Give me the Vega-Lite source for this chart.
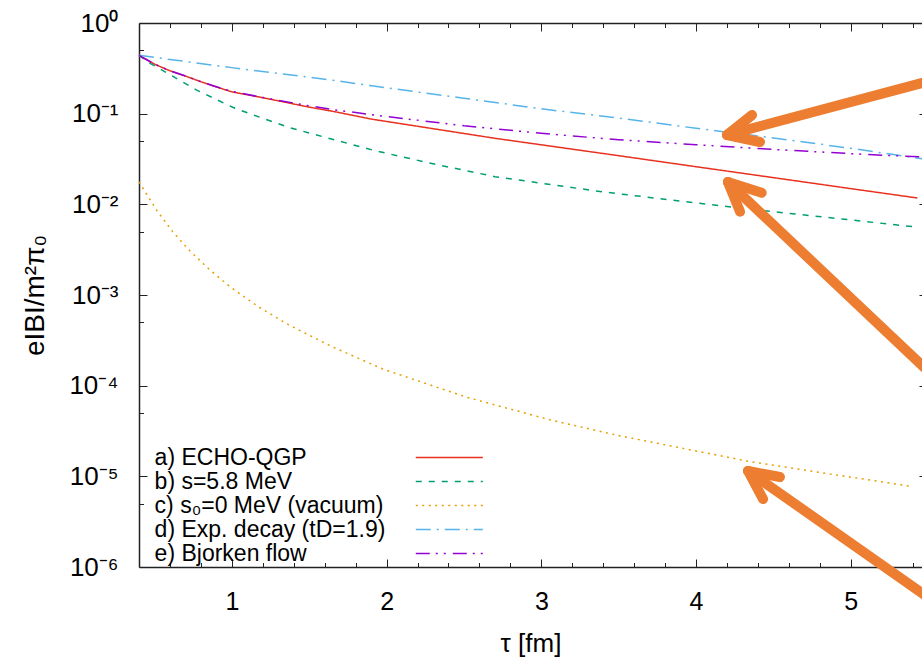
{
  "$schema": "https://vega.github.io/schema/vega-lite/v6.json",
  "width": 783,
  "height": 544,
  "autosize": {"type": "none"},
  "padding": {"left": 139, "top": 23, "right": 0, "bottom": 93},
  "background": "white",
  "config": {
    "font": "Liberation Sans",
    "view": {"stroke": null},
    "axis": {
      "labelFont": "Liberation Sans",
      "titleFont": "Liberation Sans",
      "labelFontSize": 25,
      "titleFontSize": 26,
      "titleFontWeight": "normal",
      "labelColor": "#000",
      "titleColor": "#000",
      "domainColor": "#222",
      "domainWidth": 1.5,
      "tickColor": "#222",
      "tickWidth": 1,
      "grid": false
    },
    "legend": {
      "labelFont": "Liberation Sans",
      "labelFontSize": 23,
      "labelColor": "#000",
      "labelLimit": 400
    }
  },
  "datasets": {
    "curves": [
      {"series": "a) ECHO-QGP", "tau": 0.4, "B": 0.44},
      {"series": "a) ECHO-QGP", "tau": 0.5, "B": 0.352},
      {"series": "a) ECHO-QGP", "tau": 0.6, "B": 0.297},
      {"series": "a) ECHO-QGP", "tau": 0.7, "B": 0.26},
      {"series": "a) ECHO-QGP", "tau": 0.8, "B": 0.225},
      {"series": "a) ECHO-QGP", "tau": 0.9, "B": 0.197},
      {"series": "a) ECHO-QGP", "tau": 1.0, "B": 0.174},
      {"series": "a) ECHO-QGP", "tau": 1.2, "B": 0.15},
      {"series": "a) ECHO-QGP", "tau": 1.5, "B": 0.118},
      {"series": "a) ECHO-QGP", "tau": 1.667, "B": 0.105},
      {"series": "a) ECHO-QGP", "tau": 1.9, "B": 0.0872},
      {"series": "a) ECHO-QGP", "tau": 2.3, "B": 0.0683},
      {"series": "a) ECHO-QGP", "tau": 2.7, "B": 0.0535},
      {"series": "a) ECHO-QGP", "tau": 3.1, "B": 0.0429},
      {"series": "a) ECHO-QGP", "tau": 3.5, "B": 0.0344},
      {"series": "a) ECHO-QGP", "tau": 4.0, "B": 0.026},
      {"series": "a) ECHO-QGP", "tau": 4.5, "B": 0.0197},
      {"series": "a) ECHO-QGP", "tau": 5.0, "B": 0.0149},
      {"series": "a) ECHO-QGP", "tau": 5.43, "B": 0.01175},

      {"series": "b) s=5.8 MeV", "tau": 0.4, "B": 0.44},
      {"series": "b) s=5.8 MeV", "tau": 0.472, "B": 0.359},
      {"series": "b) s=5.8 MeV", "tau": 0.622, "B": 0.256},
      {"series": "b) s=5.8 MeV", "tau": 0.773, "B": 0.182},
      {"series": "b) s=5.8 MeV", "tau": 1.02, "B": 0.1146},
      {"series": "b) s=5.8 MeV", "tau": 1.182, "B": 0.0912},
      {"series": "b) s=5.8 MeV", "tau": 1.365, "B": 0.0708},
      {"series": "b) s=5.8 MeV", "tau": 1.602, "B": 0.0549},
      {"series": "b) s=5.8 MeV", "tau": 1.924, "B": 0.0391},
      {"series": "b) s=5.8 MeV", "tau": 2.3, "B": 0.028},
      {"series": "b) s=5.8 MeV", "tau": 2.7, "B": 0.0202},
      {"series": "b) s=5.8 MeV", "tau": 3.0, "B": 0.0171},
      {"series": "b) s=5.8 MeV", "tau": 3.4, "B": 0.0137},
      {"series": "b) s=5.8 MeV", "tau": 4.28, "B": 0.0091},
      {"series": "b) s=5.8 MeV", "tau": 5.4, "B": 0.00568},

      {"series": "c) s₀=0 MeV (vacuum)", "tau": 0.4, "B": 0.01766},
      {"series": "c) s₀=0 MeV (vacuum)", "tau": 0.513, "B": 0.00867},
      {"series": "c) s₀=0 MeV (vacuum)", "tau": 0.617, "B": 0.005},
      {"series": "c) s₀=0 MeV (vacuum)", "tau": 0.733, "B": 0.00301},
      {"series": "c) s₀=0 MeV (vacuum)", "tau": 0.858, "B": 0.00189},
      {"series": "c) s₀=0 MeV (vacuum)", "tau": 0.992, "B": 0.00122},
      {"series": "c) s₀=0 MeV (vacuum)", "tau": 1.17, "B": 0.000745},
      {"series": "c) s₀=0 MeV (vacuum)", "tau": 1.357, "B": 0.00048},
      {"series": "c) s₀=0 MeV (vacuum)", "tau": 1.461, "B": 0.000389},
      {"series": "c) s₀=0 MeV (vacuum)", "tau": 1.656, "B": 0.000265},
      {"series": "c) s₀=0 MeV (vacuum)", "tau": 1.978, "B": 0.000152},
      {"series": "c) s₀=0 MeV (vacuum)", "tau": 2.517, "B": 0.0000746},
      {"series": "c) s₀=0 MeV (vacuum)", "tau": 3.056, "B": 0.000042},
      {"series": "c) s₀=0 MeV (vacuum)", "tau": 3.497, "B": 0.0000282},
      {"series": "c) s₀=0 MeV (vacuum)", "tau": 4.35, "B": 0.0000145},
      {"series": "c) s₀=0 MeV (vacuum)", "tau": 5.4, "B": 0.0000077},

      {"series": "d) Exp. decay (tD=1.9)", "tau": 0.4, "B": 0.44},
      {"series": "d) Exp. decay (tD=1.9)", "tau": 1.0, "B": 0.322},
      {"series": "d) Exp. decay (tD=1.9)", "tau": 1.667, "B": 0.232},
      {"series": "d) Exp. decay (tD=1.9)", "tau": 1.892, "B": 0.204},
      {"series": "d) Exp. decay (tD=1.9)", "tau": 2.5, "B": 0.148},
      {"series": "d) Exp. decay (tD=1.9)", "tau": 3.0, "B": 0.113},
      {"series": "d) Exp. decay (tD=1.9)", "tau": 3.508, "B": 0.0889},
      {"series": "d) Exp. decay (tD=1.9)", "tau": 4.0, "B": 0.069},
      {"series": "d) Exp. decay (tD=1.9)", "tau": 4.5, "B": 0.054},
      {"series": "d) Exp. decay (tD=1.9)", "tau": 5.0, "B": 0.0415},
      {"series": "d) Exp. decay (tD=1.9)", "tau": 5.46, "B": 0.0318},

      {"series": "e) Bjorken flow", "tau": 0.4, "B": 0.44},
      {"series": "e) Bjorken flow", "tau": 0.5, "B": 0.352},
      {"series": "e) Bjorken flow", "tau": 0.6, "B": 0.297},
      {"series": "e) Bjorken flow", "tau": 0.7, "B": 0.26},
      {"series": "e) Bjorken flow", "tau": 0.8, "B": 0.225},
      {"series": "e) Bjorken flow", "tau": 0.9, "B": 0.198},
      {"series": "e) Bjorken flow", "tau": 1.0, "B": 0.176},
      {"series": "e) Bjorken flow", "tau": 1.2, "B": 0.151},
      {"series": "e) Bjorken flow", "tau": 1.5, "B": 0.122},
      {"series": "e) Bjorken flow", "tau": 1.667, "B": 0.11},
      {"series": "e) Bjorken flow", "tau": 2.0, "B": 0.093},
      {"series": "e) Bjorken flow", "tau": 2.5, "B": 0.0735},
      {"series": "e) Bjorken flow", "tau": 3.0, "B": 0.0607},
      {"series": "e) Bjorken flow", "tau": 3.5, "B": 0.0515},
      {"series": "e) Bjorken flow", "tau": 4.0, "B": 0.0455},
      {"series": "e) Bjorken flow", "tau": 4.5, "B": 0.0403},
      {"series": "e) Bjorken flow", "tau": 5.0, "B": 0.0362},
      {"series": "e) Bjorken flow", "tau": 5.46, "B": 0.0333}
    ],
    "arrows": [
      {"part": "1 shaft", "xa": 4.2, "ya": 0.05818, "xb": 5.964, "yb": 0.3695},
      {"part": "1 arm a", "xa": 4.2, "ya": 0.05818, "xb": 4.362, "yb": 0.09667},
      {"part": "1 arm b", "xa": 4.2, "ya": 0.05818, "xb": 4.413, "yb": 0.04869},
      {"part": "2 shaft", "xa": 4.206, "ya": 0.01763, "xb": 5.964, "yb": 0.0000258},
      {"part": "2 arm a", "xa": 4.206, "ya": 0.01763, "xb": 4.424, "yb": 0.01344},
      {"part": "2 arm b", "xa": 4.206, "ya": 0.01763, "xb": 4.284, "yb": 0.008295},
      {"part": "3 shaft", "xa": 4.336, "ya": 0.00001145, "xb": 5.964, "yb": 0.000000128},
      {"part": "3 arm a", "xa": 4.336, "ya": 0.00001145, "xb": 4.542, "yb": 0.00000983},
      {"part": "3 arm b", "xa": 4.336, "ya": 0.00001145, "xb": 4.433, "yb": 0.00000562}
    ]
  },
  "resolve": {"axis": {"x": "independent", "y": "independent"}},
  "layer": [
    {
      "data": {"name": "curves"},
      "mark": {"type": "line", "strokeWidth": 1.5},
      "encoding": {
        "x": {
          "field": "tau",
          "type": "quantitative",
          "scale": {"domain": [0.4, 5.46], "nice": false, "zero": false},
          "axis": {
            "orient": "bottom",
            "title": "τ [fm]",
            "titleY": 76,
            "titleBaseline": "middle",
            "values": [0.6, 0.8, 1, 1.2, 1.4, 1.6, 1.8, 2, 2.2, 2.4, 2.6, 2.8, 3, 3.2, 3.4, 3.6, 3.8, 4, 4.2, 4.4, 4.6, 4.8, 5, 5.2, 5.4],
            "labelExpr": "datum.value % 1 == 0 ? format(datum.value, 'd') : ''",
            "tickSize": {"condition": {"test": "datum.value % 1 == 0", "value": -8}, "value": -4.5},
            "labelPadding": 30,
            "labelFlush": false,
            "labelOverlap": false
          }
        },
        "y": {
          "field": "B",
          "type": "quantitative",
          "scale": {"type": "log", "domain": [0.000001, 1], "nice": false},
          "axis": {
            "orient": "left",
            "title": "eIBI/m²π₀",
            "titleX": -104,
            "titleY": 272,
            "titleAngle": -90,
            "titleBaseline": "middle",
            "titleAlign": "center",
            "titleFontSize": 28,
            "labelFontSize": 26,
            "values": [0.000001, 0.000005, 0.00001, 0.00005, 0.0001, 0.0005, 0.001, 0.005, 0.01, 0.05, 0.1, 0.5, 1],
            "labelExpr": "abs(log(datum.value)/LN10 - round(log(datum.value)/LN10)) < 0.01 ? '10' + (round(log(datum.value)/LN10) < 0 ? '⁻' : '') + ['⁰','¹','²','³','⁴','⁵','⁶'][abs(round(log(datum.value)/LN10))] : ''",
            "tickSize": {"condition": {"test": "abs(log(datum.value)/LN10 - round(log(datum.value)/LN10)) < 0.01", "value": -8}, "value": -4.5},
            "labelPadding": 29,
            "labelFlush": false,
            "labelOverlap": false
          }
        },
        "color": {
          "field": "series",
          "type": "nominal",
          "scale": {
            "domain": ["a) ECHO-QGP", "b) s=5.8 MeV", "c) s₀=0 MeV (vacuum)", "d) Exp. decay (tD=1.9)", "e) Bjorken flow"],
            "range": ["#e8311f", "#009e73", "#e69f00", "#56b4e9", "#9400d3"]
          },
          "legend": {
            "title": null,
            "orient": "none",
            "legendX": 10,
            "legendY": 423,
            "padding": 0,
            "rowPadding": -1,
            "symbolType": "M-5,0H5",
            "symbolSize": 180,
            "symbolStrokeWidth": 1.5,
            "labelOffset": -306.2,
            "symbolOffset": 288.8
          }
        },
        "strokeDash": {
          "field": "series",
          "type": "nominal",
          "scale": {
            "domain": ["a) ECHO-QGP", "b) s=5.8 MeV", "c) s₀=0 MeV (vacuum)", "d) Exp. decay (tD=1.9)", "e) Bjorken flow"],
            "range": [[1, 0], [6, 7], [2, 4.5], [15, 6, 2, 6], [14, 6, 2, 6, 2, 7]]
          },
          "legend": {
            "title": null,
            "orient": "none",
            "legendX": 10,
            "legendY": 423,
            "padding": 0,
            "rowPadding": -1,
            "symbolType": "M-5,0H5",
            "symbolSize": 180,
            "symbolStrokeWidth": 1.5,
            "labelOffset": -306.2,
            "symbolOffset": 288.8
          }
        }
      }
    },
    {
      "data": {"name": "arrows"},
      "mark": {"type": "rule", "strokeWidth": 10, "strokeCap": "round", "color": "#ed7d31"},
      "encoding": {
        "x": {
          "field": "xa",
          "type": "quantitative",
          "scale": {"domain": [0.4, 5.46], "nice": false, "zero": false},
          "axis": {
            "orient": "top",
            "title": null,
            "labels": false,
            "values": [0.6, 0.8, 1, 1.2, 1.4, 1.6, 1.8, 2, 2.2, 2.4, 2.6, 2.8, 3, 3.2, 3.4, 3.6, 3.8, 4, 4.2, 4.4, 4.6, 4.8, 5, 5.2, 5.4],
            "tickSize": {"condition": {"test": "datum.value % 1 == 0", "value": -8}, "value": -4.5}
          }
        },
        "x2": {"field": "xb"},
        "y": {
          "field": "ya",
          "type": "quantitative",
          "scale": {"type": "log", "domain": [0.000001, 1], "nice": false},
          "axis": {
            "orient": "right",
            "title": null,
            "labels": false,
            "domain": false,
            "values": [0.000001, 0.00001, 0.0001, 0.001, 0.01, 0.1, 1],
            "tickSize": -3
          }
        },
        "y2": {"field": "yb"}
      }
    }
  ]
}
